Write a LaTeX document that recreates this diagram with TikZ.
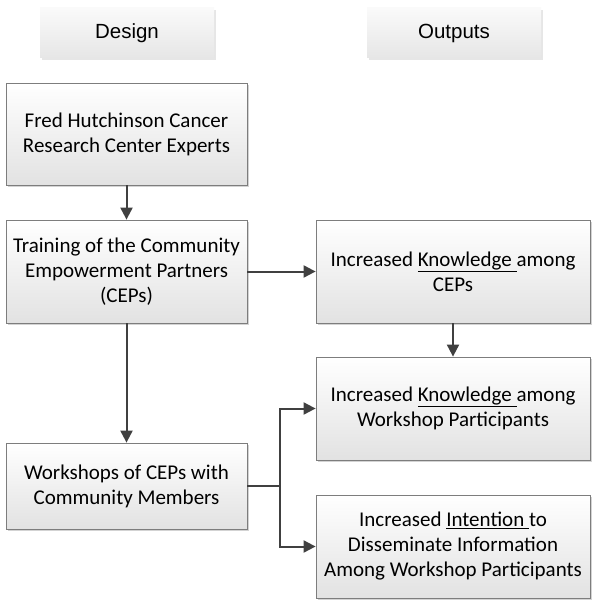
\documentclass[tikz,border=0pt]{standalone}
\usepackage{fontspec}
\setmainfont{Carlito}
\newfontfamily\hdrfont{Liberation Sans}
\usetikzlibrary{arrows.meta,shadows,calc}
\definecolor{boxline}{RGB}{125,125,125}
\definecolor{boxbot}{RGB}{226,226,226}
\definecolor{hdrtop}{RGB}{250,250,250}
\definecolor{hdrbot}{RGB}{230,230,230}
\definecolor{arrowc}{RGB}{64,64,64}
\begin{document}
\begin{tikzpicture}[x=1pt,y=-1pt,
  every node/.style={inner sep=0pt},
  flowbox/.style={draw=boxline,line width=0.8pt,top color=white,bottom color=boxbot,
    align=center,font=\fontsize{21}{25}\selectfont,
    drop shadow={shadow xshift=2pt,shadow yshift=-2pt,opacity=0.35,fill=gray}},
  hdrbox/.style={top color=hdrtop,bottom color=hdrbot,minimum width=174pt,minimum height=50pt,
    font=\hdrfont\fontsize{20.5}{24}\selectfont,
    drop shadow={shadow xshift=2pt,shadow yshift=-2pt,opacity=0.2,fill=gray}},
  conn/.style={draw=arrowc,line width=2pt,-{Triangle[length=12pt,width=12pt]}}]
\useasboundingbox (0,0) rectangle (599,607);
\node[hdrbox] (hdesign) at (127,33) {Design};
\node[hdrbox] (houtputs) at (454,33) {Outputs};
\node[flowbox,minimum width=241pt,minimum height=102pt] (fred) at (126.5,134) {Fred Hutchinson Cancer\\Research Center Experts};
\node[flowbox,minimum width=241pt,minimum height=103pt] (train) at (126.5,271.5) {Training of the Community\\Empowerment Partners\\(CEPs)};
\node[flowbox,minimum width=241pt,minimum height=86pt] (work) at (126.5,486) {Workshops of CEPs with\\Community Members};
\node[flowbox,minimum width=274pt,minimum height=103pt] (kcep) at (453,271.5) {Increased \underline{Knowledge\ }among\\CEPs};
\node[flowbox,minimum width=274pt,minimum height=103pt] (kwp) at (453,408.5) {Increased \underline{Knowledge\ }among\\Workshop Participants};
\node[flowbox,minimum width=274pt,minimum height=103pt] (intent) at (453,546.5) {Increased \underline{Intention\ }to\\Disseminate Information\\Among Workshop Participants};
\coordinate (split) at (280,486);
\draw[conn] (fred) -- (train);
\draw[conn] (train) -- (kcep);
\draw[conn] (kcep) -- (kwp);
\draw[conn] (train) -- (work);
\draw[draw=arrowc,line width=2pt] (work.east) -- (split);
\draw[conn] (split) |- (kwp.west);
\draw[conn] (split) |- (intent.west);
\end{tikzpicture}
\end{document}
